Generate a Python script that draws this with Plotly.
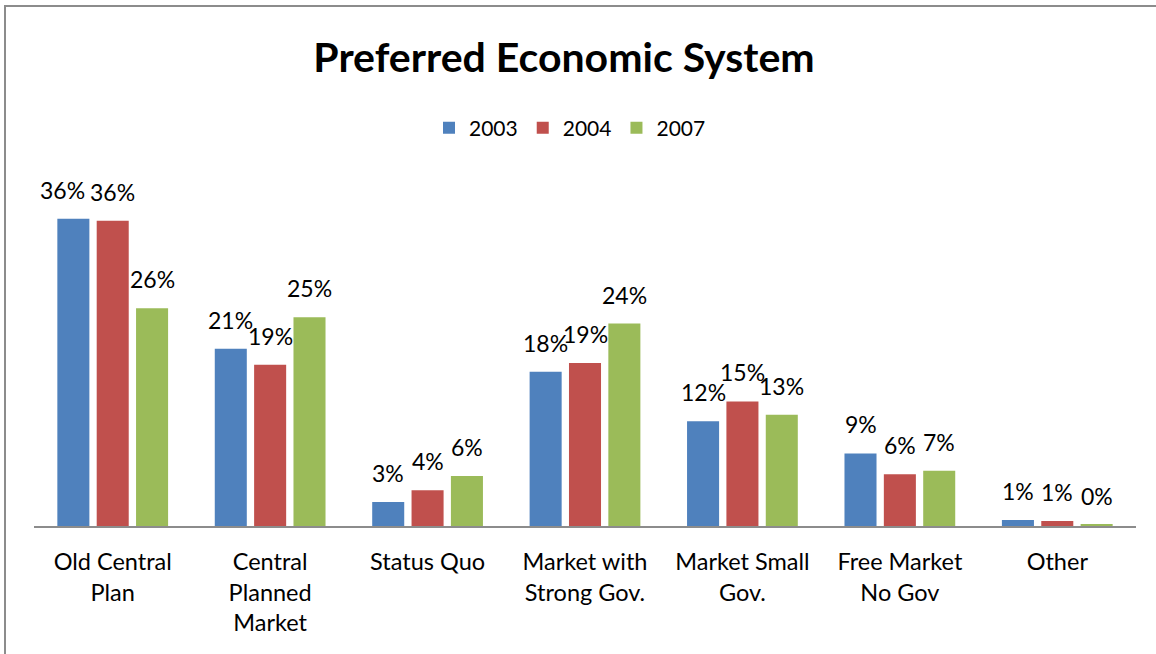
import plotly.graph_objects as go

categories = ["Old Central<br>Plan", "Central<br>Planned<br>Market", "Status Quo",
              "Market with<br>Strong Gov.", "Market Small<br>Gov.", "Free Market<br>No Gov", "Other"]
series_names = ["2003", "2004", "2007"]
v2003 = [0.3635, 0.2098, 0.0284, 0.1824, 0.1241, 0.0859, 0.0071]
v2004 = [0.3613, 0.1909, 0.0422, 0.1930, 0.1474, 0.0611, 0.0059]
v2007 = [0.2577, 0.2470, 0.0591, 0.2396, 0.1316, 0.0654, 0.0015]
colors = ["#4F81BD", "#C0504D", "#9BBB59"]

FONT = "Lato"
fig = go.Figure()
all_vals = [v2003, v2004, v2007]
for name, vals, col in zip(series_names, all_vals, colors):
    fig.add_trace(go.Bar(x=categories, y=vals, name=name, marker_color=col,
                         marker_line_width=0, hoverinfo="skip"))

plot_l, plot_r, plot_t, plot_b = 34, 20, 188, 128
W, H = 1156, 654
cat_w = (W - plot_l - plot_r) / len(categories)
bargap, bargroupgap = 0.25, 0.186
slot = cat_w * (1 - bargap) / 3
pw, ph = W - plot_l - plot_r, H - plot_t - plot_b
px_per_unit = ph / 0.40

# data labels as annotations, offset to each grouped bar; nudge a wide label left
# when the neighbouring wide label sits at nearly the same height (avoids overlap)
for i, vals in enumerate(all_vals):
    for j, (c, v) in enumerate(zip(categories, vals)):
        label = f"{round(v*100):d}%"
        nudge = 0
        if i < 2:
            nxt = all_vals[i + 1][j]
            nlabel = f"{round(nxt*100):d}%"
            if len(label) == 3 and len(nlabel) == 3 and abs(nxt - v) * px_per_unit < 6:
                nudge = -11
        fig.add_annotation(x=c, y=v, text=label, showarrow=False,
                           xshift=(i - 1) * slot + nudge, yanchor="bottom", yshift=13,
                           font=dict(family=FONT, size=23, color="black"))

# chart frame
fig.add_shape(type="rect", xref="paper", yref="paper",
              x0=(5 - plot_l) / pw, x1=(W + 10 - plot_l) / pw,
              y0=-(plot_b + 10) / ph, y1=(H - plot_b - 6) / ph,
              line=dict(color="#8C8C8C", width=2), fillcolor="rgba(0,0,0,0)", layer="below")

fig.update_layout(
    width=W, height=H,
    margin=dict(l=plot_l, r=plot_r, t=plot_t, b=plot_b, autoexpand=False),
    paper_bgcolor="white", plot_bgcolor="white",
    barmode="group", bargap=bargap, bargroupgap=bargroupgap,
    font=dict(family=FONT, color="black"),
    title=dict(text="<b>Preferred Economic System</b>", x=564 / W, xanchor="center",
               y=1 - 58 / H, yanchor="middle", yref="container",
               font=dict(family=FONT, size=41, color="black")),
    legend=dict(orientation="h", x=(570 - plot_l) / pw, xanchor="center",
                y=(H - plot_b - 128) / ph, yanchor="middle",
                font=dict(family=FONT, size=21, color="black"),
                itemclick=False, itemdoubleclick=False),
    showlegend=True,
    hovermode=False,
)
fig.update_xaxes(showline=True, linecolor="#8C8C8C", linewidth=2, ticks="",
                 tickfont=dict(family=FONT, size=23.5, color="black"),
                 showgrid=False, fixedrange=True, ticklabelstandoff=14)
fig.update_yaxes(range=[0, 0.40], visible=False, showgrid=False, fixedrange=True)

fig.write_html("out.html", config={"displayModeBar": False})
